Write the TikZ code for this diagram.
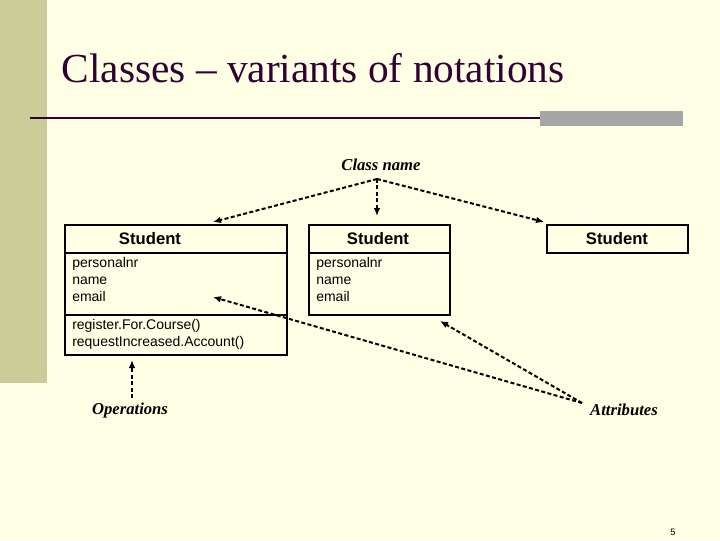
\documentclass[tikz,border=0pt]{standalone}
\usepackage{fontspec}
\setmainfont{Liberation Serif}
\setsansfont{Liberation Sans}
\usetikzlibrary{arrows.meta}
\definecolor{bgyellow}{HTML}{FFFFE5}
\definecolor{barkhaki}{HTML}{CCCC99}
\definecolor{titlepurple}{HTML}{330033}
\tikzset{
  classbox/.style={draw, line width=0.8pt},
  classname/.style={font=\sffamily\bfseries\fontsize{12.5}{14}\selectfont},
  members/.style={font=\sffamily\fontsize{10.5}{12.8}\selectfont, align=left, anchor=north west, inner sep=0pt},
  notelabel/.style={font=\rmfamily\bfseries\itshape\fontsize{12.5}{14}\selectfont},
  pointer/.style={dash pattern=on 3pt off 1.8pt, line width=1.5pt, -{Latex[length=6pt,width=5pt]}}
}
\begin{document}
\begin{tikzpicture}[x=0.75pt,y=-0.75pt]
  % Hintergrund
  \useasboundingbox (0,0) rectangle (720,540);
  \fill[bgyellow] (0,0) rectangle (720,540);
  \fill[barkhaki] (0,0) rectangle (47,383);
  \node[anchor=west, text=titlepurple, font=\rmfamily\fontsize{31}{36}\selectfont] (title) at (57,68) {Classes -- variants of notations};
  \draw[titlepurple, line width=1.5pt] (30,118) -- (540,118);
  \fill[gray!70] (540,111) rectangle (683,126);

  % Klassen
  \draw[classbox] (65,225) rectangle (287,355);
  \draw[classbox] (65,253) -- (287,253);
  \draw[classbox] (65,315) -- (287,315);
  \node[classname] (s1) at (150,239) {Student};
  \node[members] (a1) at (72,257) {personalnr\\name\\email};
  \node[members] (o1) at (72,319) {register.For.Course()\\requestIncreased.Account()};

  \draw[classbox] (309,225) rectangle (450,315);
  \draw[classbox] (309,253) -- (450,253);
  \node[classname] (s2) at (378,239) {Student};
  \node[members] (a2) at (316,257) {personalnr\\name\\email};

  \draw[classbox] (547,225) rectangle (688,253);
  \node[classname] (s3) at (617,239) {Student};

  % Beschriftungen
  \node[notelabel] (cn) at (381,165) {Class name};
  \node[notelabel] (ops) at (130,410) {Operations};
  \node[notelabel] (attr) at (624,410) {Attributes};
  \node[font=\sffamily\fontsize{7}{8}\selectfont] (pg) at (673,532) {5};

  \coordinate (cnfoot) at (377,179);
  \coordinate (attrfoot) at (582,403);
  \coordinate (t1) at (213,222);
  \coordinate (t2) at (377,216);
  \coordinate (t3) at (544,222);
  \coordinate (t4) at (213,297);
  \coordinate (t5) at (440,321);
  \coordinate (opsfoot) at (132,398);
  \coordinate (t6) at (132,360);

  % Pfeile
  \draw[pointer] (cnfoot) -- (t1);
  \draw[pointer] (cnfoot) -- (t2);
  \draw[pointer] (cnfoot) -- (t3);
  \draw[pointer] (attrfoot) -- (t4);
  \draw[pointer] (attrfoot) -- (t5);
  \draw[pointer] (opsfoot) -- (t6);
\end{tikzpicture}
\end{document}
